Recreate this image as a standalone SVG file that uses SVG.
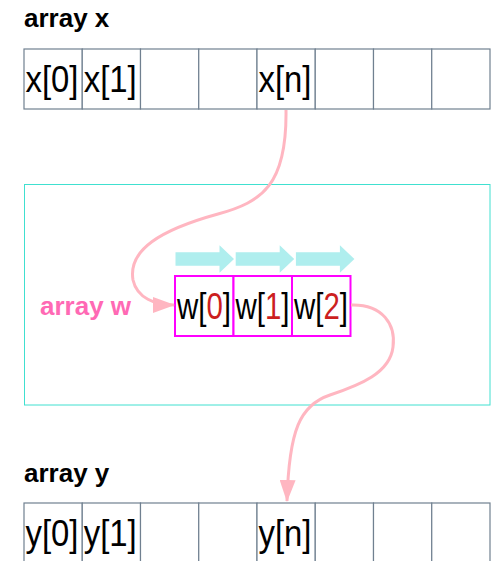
<svg xmlns="http://www.w3.org/2000/svg" width="492" height="561" viewBox="0 0 492 561">
  <style>
    .cell { fill: #ffffff; stroke: #708090; stroke-width: 1.2; }
    .wcell { fill: #ffffff; stroke: #ff00ff; stroke-width: 2; }
    .ct { font-family: "Liberation Sans Narrow", "Liberation Sans", Arial, sans-serif; font-size: 37px; fill: #000000; }
    .red { fill: #cc1f1f; }
    .lbl { font-family: "Liberation Sans", Arial, sans-serif; font-weight: bold; font-size: 26px; fill: #000000; }
    .pinklbl { fill: #ff69b4; }
    .conn { fill: none; stroke: #ffb6c1; stroke-width: 3; }
    .blk { fill: #afeeee; }
  </style>
  <defs>
    <marker id="ah" markerUnits="userSpaceOnUse" markerWidth="22" markerHeight="16" viewBox="0 0 22 16" refX="21" refY="8" orient="auto">
      <path d="M0,0 L22,8 L0,16 z" fill="#ffb6c1"/>
    </marker>
    <polygon id="blkarrow" points="0,-6.7 44,-6.7 44,-13.7 58.5,0 44,13.7 44,6.7 0,6.7"/>
  </defs>

  <rect id="container" x="24.5" y="184.5" width="465.5" height="220.5" fill="none" stroke="#40e0d0" stroke-width="1"/>

  <g id="array-x">
    <text class="lbl" x="24" y="27">array x</text>
    <rect class="cell" x="24" y="49" width="58.25" height="60"/>
    <rect class="cell" x="82.25" y="49" width="58.25" height="60"/>
    <rect class="cell" x="140.5" y="49" width="58.25" height="60"/>
    <rect class="cell" x="198.75" y="49" width="58.25" height="60"/>
    <rect class="cell" x="257" y="49" width="58.25" height="60"/>
    <rect class="cell" x="315.25" y="49" width="58.25" height="60"/>
    <rect class="cell" x="373.5" y="49" width="58.25" height="60"/>
    <rect class="cell" x="431.75" y="49" width="58.25" height="60"/>
    <text class="ct" x="25.5" y="92" textLength="53" lengthAdjust="spacingAndGlyphs">x[0]</text>
    <text class="ct" x="83.75" y="92" textLength="53" lengthAdjust="spacingAndGlyphs">x[1]</text>
    <text class="ct" x="258.5" y="92" textLength="53" lengthAdjust="spacingAndGlyphs">x[n]</text>
  </g>

  <g id="array-w">
    <text class="lbl pinklbl" x="40" y="315">array w</text>
    <use href="#blkarrow" class="blk" x="175.5" y="259"/>
    <use href="#blkarrow" class="blk" x="235.7" y="259"/>
    <use href="#blkarrow" class="blk" x="295.9" y="259"/>
    <rect class="wcell" x="175" y="276" width="58.5" height="60"/>
    <rect class="wcell" x="233.5" y="276" width="58.5" height="60"/>
    <rect class="wcell" x="292" y="276" width="58.5" height="60"/>
    <text class="ct" x="177" y="319" textLength="54" lengthAdjust="spacingAndGlyphs">w[<tspan class="red">0</tspan>]</text>
    <text class="ct" x="235.5" y="319" textLength="54" lengthAdjust="spacingAndGlyphs">w[<tspan class="red">1</tspan>]</text>
    <text class="ct" x="294" y="319" textLength="54" lengthAdjust="spacingAndGlyphs">w[<tspan class="red">2</tspan>]</text>
  </g>

  <g id="array-y">
    <text class="lbl" x="24" y="482">array y</text>
    <rect class="cell" x="24" y="503" width="58.25" height="60"/>
    <rect class="cell" x="82.25" y="503" width="58.25" height="60"/>
    <rect class="cell" x="140.5" y="503" width="58.25" height="60"/>
    <rect class="cell" x="198.75" y="503" width="58.25" height="60"/>
    <rect class="cell" x="257" y="503" width="58.25" height="60"/>
    <rect class="cell" x="315.25" y="503" width="58.25" height="60"/>
    <rect class="cell" x="373.5" y="503" width="58.25" height="60"/>
    <rect class="cell" x="431.75" y="503" width="58.25" height="60"/>
    <text class="ct" x="25.5" y="546" textLength="53" lengthAdjust="spacingAndGlyphs">y[0]</text>
    <text class="ct" x="83.75" y="546" textLength="53" lengthAdjust="spacingAndGlyphs">y[1]</text>
    <text class="ct" x="258.5" y="546" textLength="53" lengthAdjust="spacingAndGlyphs">y[n]</text>
  </g>

  <g id="connectors">
    <path class="conn" marker-end="url(#ah)" d="M 286 110 C 287 185, 262 202, 218 214 C 160 230, 128 250, 133 280 C 137 298, 155 305, 174 305"/>
    <path class="conn" marker-end="url(#ah)" d="M 351 305 C 383 304, 396 325, 393 347 C 390 373, 360 385, 330 395 C 300 405, 289 430, 287 501"/>
  </g>
</svg>
